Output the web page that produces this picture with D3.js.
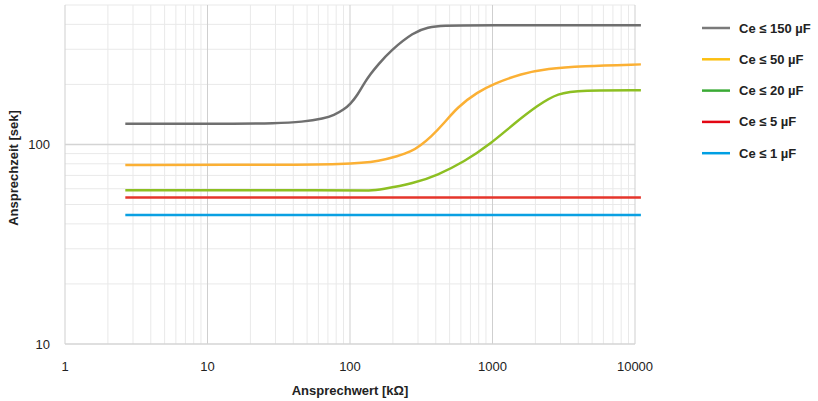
<!DOCTYPE html>
<html>
<head>
<meta charset="utf-8">
<script src="https://cdn.jsdelivr.net/npm/d3@7"></script>
<style>
  body { margin: 0; background: #fff; }
  text { font-family: "Liberation Sans", Arial, sans-serif; fill: #222; }
</style>
</head>
<body>
<svg id="chart" width="818" height="401"></svg>
<script>
// data (x in kOhm, y in sek)
var labels = ["Ce ≤ 150 µF", "Ce ≤ 50 µF", "Ce ≤ 20 µF", "Ce ≤ 5 µF", "Ce ≤ 1 µF"];
var lineColors = ["#6f6f6f", "#fbb034", "#8dbf22", "#e5352b", "#0aa0e2"];
var legendColors = ["#7a7a7a", "#fcbf10", "#3aaa35", "#e30613", "#009fe3"];

var ce150x = [2.65, 20, 27.6, 47.4, 65.5, 77.1, 90.6, 101, 112.5, 125.3, 139.6, 155.6, 193, 281, 350, 457, 705, 11000];
var ce150y = [127, 127, 127.4, 129.7, 134.9, 140.1, 149.6, 160, 176.4, 202, 226, 249, 296, 366, 387, 395, 396, 396];
var ce50x = [2.65, 20, 100, 164, 215, 267, 314, 369, 458, 568, 785, 1028, 1585, 2440, 4185, 11000];
var ce50y = [79, 79, 79.4, 82.8, 87.4, 91.8, 99.2, 109, 128, 154, 183, 202, 226, 240, 247, 252];
var ce20x = [2.65, 100, 139, 164, 281, 411, 632, 975, 1422, 2075, 2870, 4185, 11000];
var ce20y = [59, 59, 58.6, 59.4, 63.8, 70.2, 81.8, 101, 127.4, 157, 181, 187, 187];
var ce5x = [2.65, 11000];
var ce5y = [54.3, 54.3];
var ce1x = [2.65, 11000];
var ce1y = [44.3, 44.3];

var xTicks = [1, 10, 100, 1000, 10000];
var yTicks = [10, 100];

var series = [
  {x: ce150x, y: ce150y},
  {x: ce50x, y: ce50y},
  {x: ce20x, y: ce20y},
  {x: ce5x, y: ce5y},
  {x: ce1x, y: ce1y}
];

var svg = d3.select("#chart");
var margin = {top: 5, left: 65, right: 183, bottom: 57};
var width = 818 - margin.left - margin.right,
    height = 401 - margin.top - margin.bottom;

var x = d3.scaleLog().domain([1, 10000]).range([0, width]);
var y = d3.scaleLog().domain([10, 500]).range([height, 0]);

var g = svg.append("g").attr("transform", "translate(" + margin.left + "," + margin.top + ")");

// minor grid
var xMinor = [], yMinor = [];
for (var d = 1; d < 10000; d *= 10) {
  for (var k = 2; k <= 9; k++) xMinor.push(d * k);
}
for (var d2 = 10; d2 < 500; d2 *= 10) {
  for (var k2 = 2; k2 <= 9; k2++) if (d2 * k2 <= 500) yMinor.push(d2 * k2);
}
g.selectAll(".xminor").data(xMinor).enter().append("line")
  .attr("x1", function (d) { return x(d); }).attr("x2", function (d) { return x(d); })
  .attr("y1", 0).attr("y2", height)
  .attr("stroke", "#e9e9e9").attr("stroke-width", 1);
g.selectAll(".yminor").data(yMinor).enter().append("line")
  .attr("y1", function (d) { return y(d); }).attr("y2", function (d) { return y(d); })
  .attr("x1", 0).attr("x2", width)
  .attr("stroke", "#e9e9e9").attr("stroke-width", 1);

// major grid
g.selectAll(".xmajor").data(xTicks).enter().append("line")
  .attr("x1", function (d) { return x(d); }).attr("x2", function (d) { return x(d); })
  .attr("y1", 0).attr("y2", height)
  .attr("stroke", "#cfcfcf").attr("stroke-width", 1);
g.selectAll(".ymajor").data(yTicks).enter().append("line")
  .attr("y1", function (d) { return y(d); }).attr("y2", function (d) { return y(d); })
  .attr("x1", 0).attr("x2", width)
  .attr("stroke", "#d4d4d4").attr("stroke-width", 1.5);

// tick labels
g.selectAll(".xlab").data(xTicks).enter().append("text")
  .attr("x", function (d) { return x(d); }).attr("y", height + 27)
  .attr("text-anchor", "middle").attr("font-size", "13px")
  .text(function (d) { return d; });
g.selectAll(".ylab").data(yTicks).enter().append("text")
  .attr("x", -15).attr("y", function (d) { return y(d); }).attr("dy", "0.35em")
  .attr("text-anchor", "end").attr("font-size", "13px")
  .text(function (d) { return d; });

// lines
var line = d3.line()
  .x(function (d) { return x(d[0]); })
  .y(function (d) { return y(d[1]); })
  .curve(d3.curveBasis);

series.forEach(function (s, i) {
  var pts = s.x.map(function (v, j) { return [v, s.y[j]]; });
  g.append("path").datum(pts)
    .attr("d", line)
    .attr("fill", "none")
    .attr("stroke", lineColors[i])
    .attr("stroke-width", 2.5);
});

// axis titles
svg.append("text")
  .attr("x", margin.left + x(100)).attr("y", 395)
  .attr("text-anchor", "middle").attr("font-size", "13px").attr("font-weight", "bold")
  .text("Ansprechwert [kΩ]");
svg.append("text")
  .attr("transform", "translate(18,168) rotate(-90)")
  .attr("text-anchor", "middle").attr("font-size", "13px").attr("font-weight", "bold")
  .text("Ansprechzeit [sek]");

// legend
var legend = svg.append("g").attr("transform", "translate(702,28)");
labels.forEach(function (lab, i) {
  var row = legend.append("g").attr("transform", "translate(0," + (i * 31.3) + ")");
  row.append("line").attr("x1", 0).attr("x2", 28).attr("y1", 0).attr("y2", 0)
    .attr("stroke", legendColors[i]).attr("stroke-width", 2.5);
  row.append("text").attr("x", 37).attr("y", 0).attr("dy", "0.35em")
    .attr("font-size", "13px").attr("font-weight", "bold")
    .text(lab);
});
</script>
</body>
</html>
